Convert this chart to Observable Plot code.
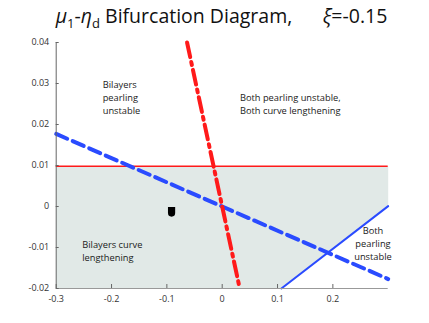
<!DOCTYPE html>
<html>
<head>
<meta charset="utf-8">
<script src="https://cdn.jsdelivr.net/npm/d3@7"></script>
<script src="https://cdn.jsdelivr.net/npm/@observablehq/plot@0.6"></script>
<style>
  html, body { margin: 0; padding: 0; background: #fff; }
  #title { height: 30px; width: 429px; font-family: "Open Sans", sans-serif; font-size: 19.5px; color: #111;
           text-align: center; line-height: 30px; white-space: pre; position: relative; left: 7px; top: 1px; }
  #title sub { font-size: 13px; vertical-align: -5px; line-height: 0; }
  svg { display: block; }
</style>
</head>
<body>
<div id="title"><i>μ</i><sub>1</sub>-<i>η</i><sub>d</sub> Bifurcation Diagram,      <i>ξ</i>=-0.15</div>
<div id="chart"></div>
<script>
const xTicks = [-0.3, -0.2, -0.1, 0, 0.1, 0.2];
const yTicks = [-0.02, -0.01, 0, 0.01, 0.02, 0.03, 0.04];
const xDomain = [-0.3, 0.3];
const yDomain = [-0.02, 0.04];

const redSolidY = 0.0098;                 // horizontal red line
const blueSolidX = [0.107, 0.3];
const blueSolidY = [-0.02, 0.0001];
const blueDashX = [-0.3, 0.3];
const blueDashY = [0.0177, -0.0177];
const redDashX = [-0.0635, 0.0317];
const redDashY = [0.04, -0.02];

const markerX = [-0.0915];
const markerY = [-0.0014];

const labelText = ["Bilayers\npearling\nunstable", "Both pearling unstable,\nBoth curve lengthening", "Bilayers curve\nlengthening", "Both\npearling\nunstable"];
const labelX = [-0.216, 0.032, -0.253, 0.2725];
const labelY = [0.0268, 0.0251, -0.0107, -0.0088];
const labelAnchor = ["start", "start", "start", "middle"];

const region = [
  [xDomain[0], yDomain[0]],
  [blueSolidX[0], blueSolidY[0]],
  [blueSolidX[1], blueSolidY[1]],
  [xDomain[1], redSolidY],
  [xDomain[0], redSolidY],
  [xDomain[0], yDomain[0]]
].map(([x, y]) => ({x, y}));
const toPts = (xs, ys) => xs.map((x, i) => ({x, y: ys[i]}));
const labels = labelText.map((t, i) => ({t, x: labelX[i], y: labelY[i], a: labelAnchor[i]}));

const shield = {
  draw(ctx) {
    const w = 3.6;
    ctx.moveTo(-w, -5.2);
    ctx.lineTo(w, -5.2);
    ctx.lineTo(w, 0.8);
    ctx.arc(0, 0.8, w, 0, Math.PI);
    ctx.closePath();
  }
};

const fontFam = '"Open Sans", sans-serif';
const labelMark = (anchor) => Plot.text(labels.filter(d => d.a === anchor), {
  x: "x", y: "y", text: "t", textAnchor: anchor, lineHeight: 1.38, fontSize: 9.3, fill: "#1a1a1a", fontFamily: fontFam
});

const chart = Plot.plot({
  width: 429,
  height: 293,
  marginTop: 12,
  marginBottom: 35,
  marginLeft: 55.7,
  marginRight: 41.3,
  style: {fontFamily: fontFam, fontSize: "9px", color: "#333", background: "#fff"},
  x: {domain: xDomain},
  y: {domain: yDomain},
  marks: [
    Plot.line(region, {x: "x", y: "y", fill: "#e1e9e7", stroke: "none"}),
    Plot.ruleY([redSolidY], {stroke: "#ff1a1a", strokeWidth: 1.6}),
    Plot.line(toPts(blueSolidX, blueSolidY), {x: "x", y: "y", stroke: "#2a4bff", strokeWidth: 2}),
    Plot.line(toPts(blueDashX, blueDashY), {x: "x", y: "y", stroke: "#2a4bff", strokeWidth: 4, strokeDasharray: "12,6"}),
    Plot.line(toPts(redDashX, redDashY), {x: "x", y: "y", stroke: "#ff1a1a", strokeWidth: 4, strokeDasharray: "15,5,3,5"}),
    Plot.dot(toPts(markerX, markerY), {x: "x", y: "y", symbol: shield, fill: "#000", stroke: "none"}),
    labelMark("start"),
    labelMark("middle"),
    Plot.ruleX([xDomain[0]], {stroke: "#666", strokeWidth: 1}),
    Plot.ruleY([yDomain[0]], {stroke: "#999", strokeWidth: 1}),
    Plot.tickX(xTicks, {x: d => d, stroke: "#666", insetTop: 242}),
    Plot.tickY(yTicks, {y: d => d, stroke: "#666", insetRight: 329}),
    Plot.axisX({ticks: xTicks, tickSize: 0, tickPadding: 7, tickFormat: d => String(d), fontSize: 9, label: null}),
    Plot.axisY({ticks: yTicks, tickSize: 0, tickPadding: 7, tickFormat: d => String(d), fontSize: 9, label: null})
  ]
});
document.getElementById("chart").appendChild(chart);
</script>
</body>
</html>
